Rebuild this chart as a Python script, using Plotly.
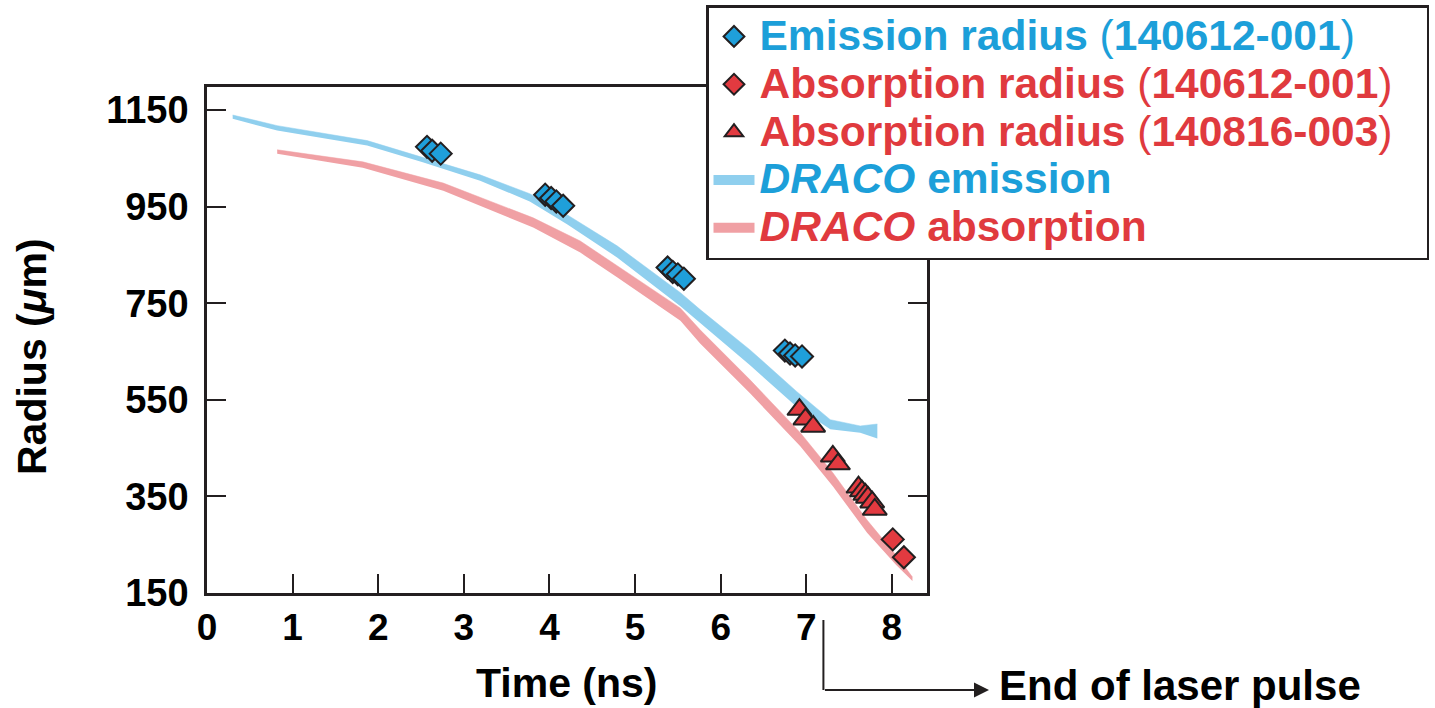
import plotly.graph_objects as go

# ---------------- data ----------------
em_t = [2.57, 2.63, 2.73, 3.95, 4.02, 4.08, 4.16, 5.38, 5.44, 5.50, 5.57, 6.75, 6.81, 6.87, 6.95]
em_r = [1074, 1066, 1060, 975, 968, 961, 952, 824, 815, 810, 801, 652, 646, 642, 640]

abs1_t = [8.01, 8.14]
abs1_r = [261, 224]

abs2_t = [6.92, 6.99, 7.08, 7.31, 7.37, 7.61, 7.65, 7.69, 7.72, 7.77, 7.80]
abs2_r = [530, 510, 495, 433, 417, 369, 361, 354, 348, 338, 323]

draco_em_t = [0.30, 0.82, 1.87, 2.52, 3.19, 3.77, 4.21, 4.79, 5.53, 5.76, 6.34, 6.89, 7.28, 7.63, 7.83]
draco_em_hi = [1140, 1118, 1087, 1052, 1016, 977, 933, 869, 772, 737, 654, 567, 509, 496, 500]
draco_em_lo = [1132, 1108, 1077, 1042, 1004, 961, 913, 845, 744, 709, 622, 535, 489, 482, 470]

draco_ab_t = [0.82, 1.82, 2.76, 3.81, 4.36, 4.79, 5.53, 5.76, 6.34, 6.93, 7.31, 7.71, 8.05, 8.24]
draco_ab_hi = [1068, 1043, 999, 927, 879, 828, 740, 695, 592, 482, 399, 301, 228, 183]
draco_ab_lo = [1060, 1031, 983, 907, 855, 804, 714, 667, 564, 454, 371, 275, 208, 175]

x_ticks = [0, 1, 2, 3, 4, 5, 6, 7, 8]
y_ticks = [150, 350, 550, 750, 950, 1150]
top_ticks = [1.87, 5.61]
laser_end = 7.2

# ---------------- styling ----------------
BLUE_TXT = "#1c9fd9"
RED_TXT = "#e03a3e"
BLUE_MK = "#1f9fda"
RED_MK = "#e23a40"
BLUE_BAND = "#8fcfee"
RED_BAND = "#f0a0a4"
INK = "#231f20"
FONT = "Liberation Sans, Arial, sans-serif"
LEG_TXT = 42.5

def par(s):
    return '<span style="font-weight:normal">' + s + '</span>'

def leg(color, body):
    return f'<span style="color:{color};font-size:{LEG_TXT}px">{body}</span>'

fig = go.Figure()

# DRACO bands (drawn first, under markers)
fig.add_trace(go.Scatter(x=draco_em_t, y=draco_em_lo, mode="lines", line=dict(width=0, color=BLUE_BAND),
                         showlegend=False, hoverinfo="skip"))
fig.add_trace(go.Scatter(x=draco_em_t, y=draco_em_hi, mode="lines", line=dict(width=0.5, color=BLUE_BAND),
                         fill="tonexty", fillcolor=BLUE_BAND, showlegend=False, hoverinfo="skip"))
fig.add_trace(go.Scatter(x=draco_ab_t, y=draco_ab_lo, mode="lines", line=dict(width=0, color=RED_BAND),
                         showlegend=False, hoverinfo="skip"))
fig.add_trace(go.Scatter(x=draco_ab_t, y=draco_ab_hi, mode="lines", line=dict(width=0.5, color=RED_BAND),
                         fill="tonexty", fillcolor=RED_BAND, showlegend=False, hoverinfo="skip"))

mk_line = dict(color=INK, width=2)
fig.add_trace(go.Scatter(
    x=em_t, y=em_r, mode="markers", legendrank=1,
    name=leg(BLUE_TXT, f'Emission radius {par("(")}140612-001{par(")")}'),
    marker=dict(symbol="diamond", size=17, color=BLUE_MK, line=mk_line)))
fig.add_trace(go.Scatter(
    x=abs1_t, y=abs1_r, mode="markers", legendrank=2,
    name=leg(RED_TXT, f'Absorption radius {par("(")}140612-001{par(")")}'),
    marker=dict(symbol="diamond", size=17, color=RED_MK, line=mk_line)))
fig.add_trace(go.Scatter(
    x=abs2_t, y=abs2_r, mode="markers", legendrank=3,
    name=leg(RED_TXT, f'Absorption radius {par("(")}140816-003{par(")")}') + "\u00a0\u00a0\u00a0",
    marker=dict(symbol="triangle-up", size=21, color=RED_MK, line=mk_line)))

# legend entries for the DRACO bands
fig.add_trace(go.Scatter(
    x=[None], y=[None], mode="lines", legendrank=4,
    name=leg(BLUE_TXT, '<i>DRACO</i> emission'),
    line=dict(color=BLUE_BAND, width=10)))
fig.add_trace(go.Scatter(
    x=[None], y=[None], mode="lines", legendrank=5,
    name=leg(RED_TXT, '<i>DRACO</i> absorption'),
    line=dict(color=RED_BAND, width=10)))

W, H = 1435, 708
L, R, T, B = 207, 927, 87, 593
pw, ph = R - L, B - T
XMAX = 8.41

def px_x(p):
    return (p - L) / pw

def px_y(p):
    return (B - p) / ph

fig.update_layout(
    width=W, height=H,
    margin=dict(l=L, r=W - R, t=T, b=H - B, autoexpand=False),
    paper_bgcolor="white", plot_bgcolor="white",
    font=dict(family=FONT, color="black"),
    xaxis=dict(range=[0, XMAX], tickvals=x_ticks, ticks="inside", ticklen=19, tickwidth=2, tickcolor=INK,
               showline=True, linewidth=2.5, linecolor=INK, mirror=True, showgrid=False, zeroline=False,
               tickfont=dict(size=37, family=FONT, color="black", weight="bold"), ticklabelstandoff=0),
    xaxis2=dict(range=[0, XMAX], overlaying="x", anchor="y", side="top", tickvals=top_ticks,
                ticks="inside", ticklen=19, tickwidth=2, tickcolor=INK, showticklabels=False,
                showline=False, showgrid=False, zeroline=False),
    yaxis=dict(range=[150, 1198], tickvals=y_ticks, ticks="inside", ticklen=19, tickwidth=2, tickcolor=INK,
               showline=True, linewidth=2.5, linecolor=INK, mirror="ticks", showgrid=False, zeroline=False,
               tickfont=dict(size=38, family=FONT, color="black", weight="bold"), ticklabelstandoff=8),
    legend=dict(x=px_x(706), y=px_y(5), xanchor="left", yanchor="top",
                bordercolor=INK, borderwidth=2.5, bgcolor="white",
                font=dict(size=34.5, family=FONT, weight="bold"), traceorder="normal",
                itemwidth=41),
    showlegend=True,
)

fig.add_annotation(text="<b>Time (ns)</b>", xref="paper", yref="paper", x=px_x(567), y=px_y(683),
                   showarrow=False, font=dict(size=41, family=FONT, color="black"), yanchor="middle")
fig.add_annotation(text="<b>Radius (<i>μ</i>m)</b>", xref="paper", yref="paper", x=px_x(32), y=px_y(357),
                   textangle=-90, showarrow=False, font=dict(size=41, family=FONT, color="black"),
                   xanchor="center", yanchor="middle")
fig.add_annotation(text="<b>End of laser pulse</b>", xref="paper", yref="paper", x=px_x(997), y=px_y(685),
                   xanchor="left", yanchor="middle", showarrow=False,
                   font=dict(size=42, family=FONT, color="black"))
# arrow from the laser-end marker
fig.add_shape(type="line", xref="x", yref="paper", x0=laser_end, x1=laser_end, y0=px_y(620), y1=px_y(690),
              line=dict(color=INK, width=2))
fig.add_annotation(text="", xref="paper", yref="paper", x=px_x(989), y=px_y(690),
                   ax=-(989 - (L + laser_end * pw / XMAX)), ay=0, axref="pixel", ayref="pixel",
                   showarrow=True, arrowhead=2, arrowsize=1.5, arrowwidth=2, arrowcolor=INK)

fig.write_html("out.html", config={"displayModeBar": False},
               post_script="document.body.style.margin='0px';")
